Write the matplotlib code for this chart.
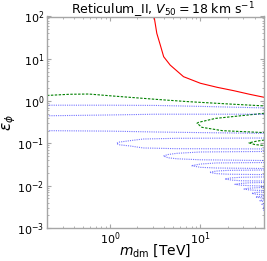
import matplotlib
matplotlib.use("Agg")
import matplotlib.pyplot as plt

# ---- data (m_dm in TeV, epsilon_phi) ----
red_m   = [3.07, 3.29, 3.6, 3.92, 4.63, 6.5, 10, 15.3, 23.5, 35, 50.8]
red_eps = [100, 40, 21, 11.2, 7.1, 3.78, 2.64, 2.12, 1.76, 1.45, 1.23]

green1_m   = [0.2, 0.355, 0.58, 1.07, 3.23, 7.35, 21.6, 51]
green1_eps = [1.36, 1.45, 1.47, 1.32, 1.10, 0.97, 0.85, 0.77]

green2_m   = [51, 14.7, 9.57, 9.18, 10.4, 17.5, 51]
green2_eps = [0.515, 0.39, 0.315, 0.30, 0.24, 0.20, 0.18]

green3_m   = [51, 42, 34.5, 40, 51]
green3_eps = [0.12, 0.113, 0.103, 0.094, 0.089]

blueA_m   = [0.2, 1, 3.2, 10, 51]
blueA_eps = [0.80, 0.80, 0.79, 0.75, 0.69]
blueB_m   = [0.2, 1, 3.2, 10, 51]
blueB_eps = [0.45, 0.47, 0.49, 0.49, 0.49]
blueC_m   = [0.2, 1, 3.2, 10, 51]
blueC_eps = [0.20, 0.195, 0.186, 0.18, 0.173]

nose2_m   = [51, 5.5, 2.33, 1.66, 1.25, 1.18, 1.25, 1.66, 2.33, 5.5, 51]
nose2_eps = [0.134, 0.132, 0.127, 0.116, 0.107, 0.100, 0.093, 0.087, 0.078, 0.075, 0.074]
nose3_m   = [51, 10, 5.5, 4.4, 3.9, 4.4, 5.5, 10, 51]
nose3_eps = [0.0644, 0.0627, 0.0583, 0.0547, 0.0504, 0.0457, 0.0433, 0.0410, 0.0394]
nose4_m   = [51, 15, 10, 7.94, 10, 15, 51]
nose4_eps = [0.0353, 0.0345, 0.0325, 0.0297, 0.0272, 0.0262, 0.0255]
nose5_m   = [51, 20, 15, 12.6, 15, 20, 51]
nose5_eps = [0.0235, 0.023, 0.0222, 0.0207, 0.0193, 0.0187, 0.0183]
nose6_m   = [51, 28, 22, 18.7, 22, 28, 51]
nose6_eps = [0.0161, 0.0158, 0.0153, 0.0144, 0.0136, 0.0131, 0.0129]
nose7_m   = [51, 35, 28, 24.1, 28, 35, 51]
nose7_eps = [0.0119, 0.0117, 0.0113, 0.0108, 0.0103, 0.0100, 0.0098]
nose8_m   = [51, 40, 34, 30.4, 34, 40, 51]
nose8_eps = [0.0091, 0.0089, 0.0087, 0.00835, 0.0080, 0.0078, 0.0077]
nose9_m   = [51, 44, 39.5, 37.1, 39.5, 44, 51]
nose9_eps = [0.0071, 0.0070, 0.0068, 0.0066, 0.0064, 0.0062, 0.0062]
nose10_m   = [51, 46, 43, 41, 43, 46, 51]
nose10_eps = [0.0057, 0.0056, 0.0055, 0.0054, 0.0053, 0.0052, 0.0051]
nose11_m   = [51, 48, 45.5, 48, 51]
nose11_eps = [0.0046, 0.00455, 0.00442, 0.0043, 0.0042]
nose12_m   = [51, 49.5, 47.9, 49.5, 51]
nose12_eps = [0.0038, 0.00375, 0.00363, 0.0035, 0.00345]
nose13_m   = [51, 49, 51]
nose13_eps = [0.0032, 0.0030, 0.0029]
nose14_m   = [51, 50, 51]
nose14_eps = [0.0027, 0.0026, 0.0025]

title = r"Reticulum_II, $V_{50} = 18$ km s$^{-1}$"
xlabel = r"$m_{\rm dm}$ [TeV]"
ylabel = r"$\epsilon_\phi$"

W, H = 267, 261
fig = plt.figure(figsize=(W / 100, H / 100), dpi=100)
ax = fig.add_axes([47 / W, 1 - 228 / H, 216.5 / W, 211.5 / H])

ax.plot(red_m, red_eps, color='red', lw=0.8)
for m, e in [(green1_m, green1_eps), (green2_m, green2_eps), (green3_m, green3_eps)]:
    ax.plot(m, e, color='green', lw=0.8, ls=(0, (2.2, 1.3)))
blues = [(blueA_m, blueA_eps), (blueB_m, blueB_eps), (blueC_m, blueC_eps),
         (nose2_m, nose2_eps), (nose3_m, nose3_eps), (nose4_m, nose4_eps),
         (nose5_m, nose5_eps), (nose6_m, nose6_eps), (nose7_m, nose7_eps),
         (nose8_m, nose8_eps), (nose9_m, nose9_eps), (nose10_m, nose10_eps),
         (nose11_m, nose11_eps), (nose12_m, nose12_eps), (nose13_m, nose13_eps),
         (nose14_m, nose14_eps)]
for m, e in blues:
    ax.plot(m, e, color='blue', lw=0.8, ls=(0, (1, 1)), alpha=0.55)

ax.set_xscale('log')
ax.set_yscale('log')
ax.set_xlim(0.2, 50)
ax.set_ylim(1e-3, 1e2)

for s in ax.spines.values():
    s.set_color('0.65')
    s.set_linewidth(1.0)
ax.tick_params(which='both', direction='in', top=True, right=True, colors='0.65',
               labelcolor='black', labelsize=8)
ax.tick_params(which='major', length=3, pad=2)
ax.tick_params(which='minor', length=1.5)

fig.text(163 / W, 1 - 14.3 / H, title, fontsize=9, ha='center', va='baseline')
ax.set_xlabel(xlabel, fontsize=10)
ax.xaxis.set_label_coords(0.5, (228 - 242) / 211.5)
ax.set_ylabel(ylabel, fontsize=11)
ax.yaxis.set_label_coords((18 - 47) / 216.5, 0.5)

fig.savefig("out.png", dpi=100)
